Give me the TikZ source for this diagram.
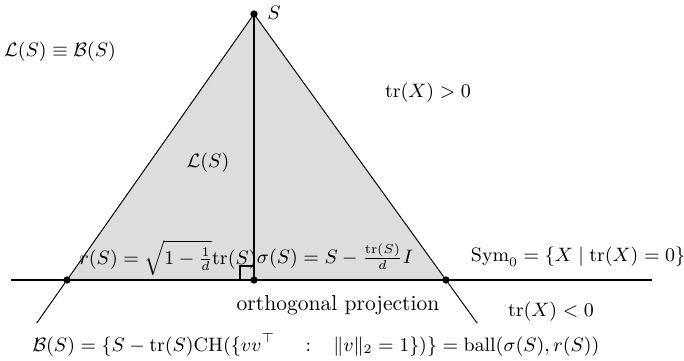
\documentclass[tikz,border=0pt]{standalone}
\usepackage{amsmath,amssymb}
\usetikzlibrary{calc,positioning}

\begin{document}
\begin{tikzpicture}[
    x=0.4635pt,
    y=-0.4635pt,
    every node/.style={font=\small},
    dot/.style={
        circle,
        fill=black,
        inner sep=0pt,
        minimum size=3.4pt
    },
    edge/.style={line width=0.45pt},
    base/.style={line width=0.8pt},
    lab/.style={inner sep=1pt},
    txt/.style={inner sep=1pt, font=\normalsize}
]
\useasboundingbox (0,0) rectangle (684,360);

%------------------------------------------------
% Points
%------------------------------------------------
\coordinate (apex) at (254,14);
\coordinate (lft)  at (67,280);
\coordinate (foot) at (254,280);
\coordinate (rgt)  at (446,280);
\coordinate (west) at (11,280);
\coordinate (east) at (652,280);

%------------------------------------------------
% Cone and plane
%------------------------------------------------
\fill[gray!27] (apex) -- (lft) -- (rgt) -- cycle;

\draw[edge] (apex) -- ($(apex)!1.162!(lft)$);
\draw[edge] (apex) -- ($(apex)!1.162!(rgt)$);
\draw[base] (west) -- (east);
\draw[line width=0.6pt] (apex) -- (foot);

% right angle mark
\draw[line width=0.8pt] ($(foot)+(-14,0)$) rectangle ($(foot)+(0,-14)$);

\node[dot] (S)  at (apex) {};
\node[dot] (L)  at (lft)  {};
\node[dot] (F)  at (foot) {};
\node[dot] (R)  at (rgt)  {};

%------------------------------------------------
% Labels
%------------------------------------------------
\node[lab] (Slab)  at (274,13)  {$S$};
\node[lab] (eqv)   at (60,52)   {$\mathcal{L}(S)\equiv\mathcal{B}(S)$};
\node[lab] (pos)   at (428,93)  {$\mathrm{tr}(X)>0$};
\node[lab] (LS)    at (208,163) {$\mathcal{L}(S)$};
\node[lab] (rad)   at (168,258) {$r(S)=\sqrt{1-\frac{1}{d}}\mathrm{tr}(S)$};
\node[lab] (ctr)   at (335,257) {$\sigma(S)=S-\frac{\mathrm{tr}(S)}{d}I$};
\node[lab] (sym)   at (578,257) {$\mathrm{Sym}_0=\{X\mid\mathrm{tr}(X)=0\}$};
\node[txt] (proj)  at (338,305) {orthogonal projection};
\node[lab] (neg)   at (551,312) {$\mathrm{tr}(X)<0$};
\node[lab] (ball)  at (316,345)
    {$\mathcal{B}(S)=\{S-\mathrm{tr}(S)\mathrm{CH}(\{vv^{\top}\quad\;:\;\;\;\|v\|_2=1\})\}=\mathrm{ball}(\sigma(S),r(S))$};

\end{tikzpicture}
\end{document}
